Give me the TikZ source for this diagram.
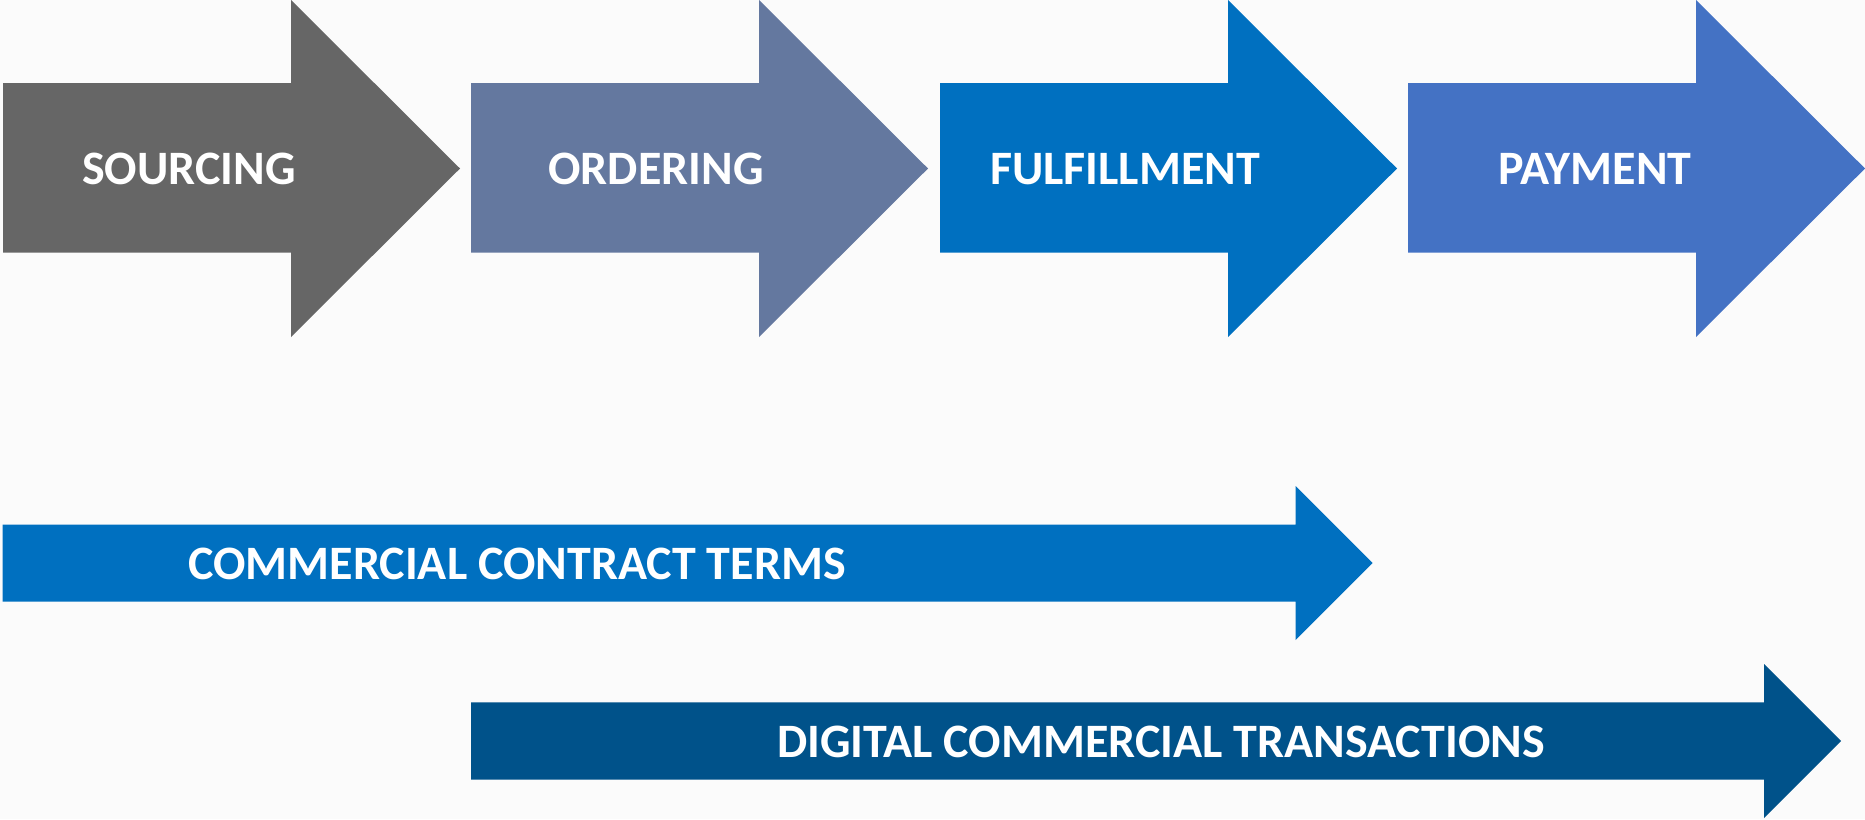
\documentclass[tikz,border=0pt]{standalone}
\usepackage{fontspec}
\setmainfont{Carlito}
\definecolor{bg}{HTML}{FBFBFB}
\definecolor{cSrc}{HTML}{666666}
\definecolor{cOrd}{HTML}{64789F}
\definecolor{cFul}{HTML}{0070C0}
\definecolor{cPay}{HTML}{4472C4}
\definecolor{cDig}{HTML}{00528A}
\tikzset{
  lbl/.style={text=white, font=\bfseries\fontsize{48}{52}\selectfont, inner sep=0pt, anchor=center},
}
\begin{document}
\begin{tikzpicture}[x=1pt,y=-1pt]
\fill[bg] (0,0) rectangle (1865,819);
\useasboundingbox (0,0) rectangle (1865,819);
% big process arrows: left, head x, tip x
\foreach \l/\c in {3/cSrc,471/cOrd,940/cFul,1408/cPay}{
  \fill[\c] (\l,83) -- (\l+288,83) -- (\l+288,0) -- (\l+457,168.5) -- (\l+288,337) -- (\l+288,252.5) -- (\l,252.5) -- cycle;
}
\node[lbl] (src) at (189,169) {SOURCING};
\node[lbl] (ord) at (656,169) {ORDERING};
\node[lbl] (ful) at (1125,169) {FULFILLMENT};
\node[lbl] (pay) at (1595,169) {PAYMENT};
% commercial contract terms
\fill[cFul] (2.5,524.5) -- (1295.5,524.5) -- (1295.5,486) -- (1372.5,563) -- (1295.5,640) -- (1295.5,601.7) -- (2.5,601.7) -- cycle;
\node[lbl] (cct) at (517,564) {COMMERCIAL CONTRACT TERMS};
% digital commercial transactions
\fill[cDig] (471,702.3) -- (1764,702.3) -- (1764,664) -- (1841,741) -- (1764,818) -- (1764,779.5) -- (471,779.5) -- cycle;
\node[lbl] (dct) at (1161,742) {DIGITAL COMMERCIAL TRANSACTIONS};
\end{tikzpicture}
\end{document}
